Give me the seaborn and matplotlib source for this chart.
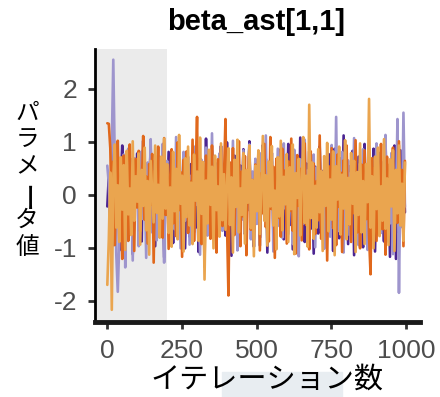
"""
Trace plot of beta_ast[1,1] (4 chains, warmup shaded).
"""
import matplotlib
matplotlib.use("Agg")
import matplotlib.pyplot as plt
import numpy as np
import pandas as pd
import seaborn as sns
from matplotlib.patches import Rectangle

# iteration grid (every 5th draw)
iterations = np.arange(1, 1001, 5)

chain1 = [
    -0.22, 0.35, -0.61, 0.84, -0.95, 0.41, -0.18, 0.72, -1.05, 0.26, 0.93, -0.47, 0.12, -0.83, 0.58, -0.31, 0.67, -1.12, 0.44, -0.09,
    0.78, -0.56, 0.21, -0.88, 1.02, -0.35, 0.49, -0.72, 0.15, 0.88, -0.41, 0.63, -0.97, 0.28, -0.14, 0.71, -0.66, 0.37, -1.18, 0.52,
    -0.25, 0.81, -0.53, 0.19, -0.91, 0.64, -0.08, 0.97, -0.69, 0.33, -0.44, 0.75, -1.01, 0.46, 0.07, -0.79, 0.58, -0.29, 0.89, -0.62,
    0.24, -1.08, 0.69, -0.17, 0.52, -0.85, 1.06, -0.38, 0.13, -0.71, 0.83, -0.49, 0.31, -0.94, 0.61, -0.11, 0.92, -0.58, 0.18, -0.77,
    0.99, -0.32, 0.47, -1.15, 0.28, 0.74, -0.63, 0.09, -0.87, 0.55, -0.21, 0.86, -0.74, 0.39, -0.05, 1.01, -0.52, 0.22, -0.98, 0.66,
    -0.36, 0.57, -0.81, 0.14, 0.94, -0.45, 0.68, -1.09, 0.32, -0.16, 0.79, -0.67, 0.43, -0.92, 0.26, 0.85, -0.39, 0.11, -0.84, 0.62,
    -0.13, 0.96, -0.57, 0.35, -1.03, 0.71, -0.27, 0.48, -0.76, 1.08, -0.42, 0.17, -0.89, 0.59, -0.23, 0.82, -0.64, 0.29, -1.11, 0.53,
    0.04, -0.73, 0.91, -0.34, 0.45, -0.96, 0.63, -0.19, 0.77, -0.55, 0.38, -1.06, 0.87, -0.28, 0.16, -0.82, 0.69, -0.47, 1.12, -0.61,
    0.27, -0.93, 0.54, -0.12, 0.83, -1.14, 0.41, -0.37, 0.72, -0.68, 0.19, -0.99, 0.96, -0.43, 0.34, -0.81, 0.58, -0.24, 0.87, -1.07,
    0.46, -0.54, 0.79, -0.31, 0.12, -0.88, 1.05, -0.49, 0.36, -1.17, 0.67, -0.26, 0.93, -1.21, 0.51, -0.71, 0.84, -0.42, 0.63, -0.33,
]
chain2 = [
    0.55, 0.21, -0.42, 0.93, 2.55, 0.62, -1.12, -1.83, -0.91, 0.34, -0.58, 0.76, -1.37, 0.18, 0.87, -0.63, 0.42, -1.24, 0.69, -0.15,
    0.53, -0.97, 0.11, 0.82, -0.46, 0.27, -1.19, 0.61, -0.22, 1.05, -0.71, 0.38, -0.08, -0.86, 0.74, 0.19, -0.53, 0.96, -1.28, 0.31,
    0.64, -0.37, -0.82, 0.49, 0.12, -0.65, 1.09, -0.28, 0.57, -1.01, 0.23, 0.81, -0.49, -0.16, 0.72, -0.94, 0.36, 0.08, -0.71, 0.92,
    -0.19, 0.47, -1.13, 0.66, -0.31, 0.15, 0.89, -0.77, 0.29, -0.44, 1.16, -0.58, 0.04, -0.91, 0.53, 0.78, -0.25, -0.68, 0.41, -0.12,
    0.73, -0.89, 0.35, -0.39, 1.02, -0.61, 0.18, -1.05, 0.57, 0.26, -0.47, 0.84, -0.73, 0.11, -0.29, 0.95, -0.84, 0.44, -0.07, 0.68,
    -0.55, 0.31, -0.96, 0.79, 0.06, -0.42, 1.12, -0.69, 0.24, -0.18, 0.63, -1.07, 0.48, -0.33, 0.87, -0.59, 0.14, -0.81, 0.97, -0.26,
    0.39, -0.74, 0.58, -0.11, -0.93, 0.85, -0.48, 0.21, -1.16, 0.67, 0.09, -0.55, 1.04, -0.37, 0.46, -0.83, 0.28, -0.17, 0.76, -0.99,
    0.52, -0.28, 0.89, -0.64, 0.13, -1.02, 0.71, -0.35, 0.37, -0.79, 0.94, -0.21, -0.57, 1.47, -0.69, 0.22, -0.43, 0.81, -1.09, 0.34,
    -0.08, 0.65, -0.76, 0.42, -0.31, 1.07, -0.52, 0.17, -0.95, 0.59, -0.13, 0.86, -0.67, 0.27, -1.04, 0.73, -0.36, 0.49, -0.85, 0.11,
    0.97, -0.46, 0.32, -0.72, 0.61, -0.19, 1.13, -0.88, 0.25, -0.54, 0.79, -1.12, 0.43, -0.27, 1.43, -1.85, 0.38, -0.61, 1.55, -0.22,
]
chain3 = [
    1.35, 1.34, 0.88, -0.41, 0.63, -0.95, 0.27, 1.02, -0.58, 0.16, -1.21, 0.74, -0.33, 0.51, -0.87, 0.95, -0.14, 0.39, -1.06, 0.68,
    -0.24, 0.83, -0.69, 0.12, 1.11, -0.47, 0.35, -0.92, 0.58, -0.19, 0.77, -1.28, 0.46, -0.06, 0.91, -0.63, 0.22, -0.81, 1.07, -0.38,
    0.55, -1.02, 0.31, 0.86, -0.54, 0.17, -0.78, 0.99, -0.29, 0.43, -1.17, 0.66, -0.11, 0.82, -0.72, 0.25, -0.45, 1.04, -0.87, 0.38,
    1.47, -0.64, 0.21, -0.93, 0.59, -1.36, 0.74, -0.18, 0.48, -0.83, 0.93, -0.37, 0.14, -1.09, 0.67, -0.26, 0.85, -0.59, 0.32, 1.43,
    -0.51, -1.90, 0.61, -0.22, 0.88, -0.76, 0.36, -0.13, 1.01, -0.97, 0.44, -0.41, 0.73, -1.14, 0.19, 0.92, -0.66, 0.28, -0.84, 0.57,
    -0.09, 0.79, -1.05, 0.41, -0.35, 0.96, -0.61, 0.15, -0.88, 1.09, -0.27, 0.53, -1.19, 0.68, -0.44, 0.24, -0.79, 0.87, -0.16, 0.46,
    -0.92, 0.63, -0.31, 1.06, -0.68, 0.18, -1.11, 0.75, -0.21, 0.49, -0.86, 0.33, 0.97, -0.57, 0.11, -1.03, 0.82, -0.39, 0.59, -0.74,
    0.26, -0.48, 1.12, -0.83, 0.39, -0.14, 0.71, -1.24, 0.54, -0.32, 0.88, -0.63, 0.17, -0.95, 0.76, -0.23, 0.42, -1.08, 0.65, -0.18,
    0.93, -0.56, 0.29, -0.89, 0.62, -0.35, 1.03, -0.71, 0.14, -1.01, 0.57, -0.24, 0.84, -0.46, 0.35, -0.78, -1.50, 0.69, -0.29, 0.51,
    -0.87, 0.38, -0.12, 0.96, -0.65, 0.23, -1.13, 0.72, -0.42, 0.58, -0.19, 0.89, -0.76, 0.31, -0.53, 1.01, -0.34, 0.47, -0.97, 0.64,
]
chain4 = [
    -1.70, -0.85, 0.42, -2.17, 0.31, 0.95, -0.62, 0.18, -0.89, 0.71, -0.28, 0.56, -1.04, 0.83, -0.37, 0.12, -0.76, 1.01, -0.49, 0.35,
    -0.13, 0.78, -0.94, 0.47, -0.21, 0.89, -0.67, 0.26, -1.13, 0.64, 0.05, -0.52, 0.93, -0.34, 0.19, -0.81, 0.72, -0.45, 1.06, -0.26,
    0.58, -0.72, 0.14, -0.98, 0.81, -0.31, 0.49, -0.84, 1.13, -0.17, 0.36, -1.07, 0.69, -0.42, 0.91, -0.58, 0.23, -0.93, 0.76, -0.11,
    0.44, -0.87, 1.08, -0.36, 0.62, -1.60, 0.27, -0.54, 0.85, -0.19, 0.53, -1.01, 0.74, -0.29, 0.16, -0.79, 0.97, -0.48, 0.39, -0.66,
    0.21, 0.88, -0.57, 0.33, -1.09, 0.66, -0.23, 1.04, -0.71, 0.12, -0.38, 0.79, -0.92, 0.47, -0.15, 0.93, -0.63, 0.28, -1.16, 0.55,
    -0.31, 0.84, -0.74, 0.19, 1.11, -0.49, 0.37, -0.96, 0.63, -0.22, 0.92, -0.58, 0.08, -1.03, 0.71, -0.41, 1.02, -0.67, 0.34, -0.18,
    0.77, -0.89, 0.52, -0.27, 0.95, -1.12, 0.41, -0.06, 0.68, -0.77, 0.24, 1.09, -0.53, 0.36, -0.98, 1.70, -0.44, 0.61, -0.83, 0.17,
    -0.62, 0.86, -0.33, 0.45, -1.06, 0.73, -0.21, 0.98, -0.69, 0.29, -0.47, 0.82, -1.14, 0.54, -0.09, 0.91, -0.75, 0.38, -0.26, 1.03,
    -0.84, 0.32, -0.56, 0.79, -0.17, 0.64, -1.08, 0.43, -0.38, 0.97, -0.71, 0.26, -0.93, 0.58, -0.14, 1.81, -0.62, 0.35, -1.01, 0.72,
    -0.27, 0.89, -0.78, 0.16, -0.49, 1.05, -0.64, 0.31, -0.95, 0.67, -0.22, 0.84, -1.06, 0.47, -0.35, 0.93, -0.58, 0.21, -0.87, 0.61,
]

chain_names = ["1", "2", "3", "4"]
chain_colors = ["#4b2491", "#9e95cd", "#e0681c", "#eaa54f"]
n_warmup = 200

x_ticks = [0, 250, 500, 750, 1000]
y_ticks = [-2, -1, 0, 1, 2]

title = "beta_ast[1,1]"
x_label = "イテレーション数"
y_label = "パラメータ値"

df = pd.concat([
    pd.DataFrame({"iteration": iterations, "value": vals, "chain": name})
    for name, vals in zip(chain_names, [chain1, chain2, chain3, chain4])
])

sns.set_style("ticks")
plt.rcParams["font.family"] = ["Liberation Sans", "Noto Sans CJK JP"]
plt.rcParams["axes.unicode_minus"] = False

fig = plt.figure(figsize=(4.4, 3.97), dpi=100)
ax = fig.add_axes([0.216, 0.189, 0.739, 0.688])

# warmup region
ax.axvspan(-40, n_warmup, color="#ebebeb", lw=0, zorder=0)

sns.lineplot(data=df, x="iteration", y="value", hue="chain",
             palette=chain_colors, estimator=None, sort=False,
             linewidth=1.9, legend=False, ax=ax)

ax.set_xlim(-40, 1047)
ax.set_ylim(-2.40, 2.755)
ax.set_xticks(x_ticks)
ax.set_yticks(y_ticks)
ax.set_xlabel("")
ax.set_ylabel("")

for side in ["top", "right"]:
    ax.spines[side].set_visible(False)
ax.spines["left"].set_linewidth(2.0)
ax.spines["bottom"].set_linewidth(3.5)
ax.spines["left"].set_color("black")
ax.spines["bottom"].set_color("#1a1a1a")

ax.tick_params(axis="both", length=5, width=2, color="#333333",
               labelsize=19, labelcolor="#4d4d4d")
ax.tick_params(axis="y", pad=8)
ax.tick_params(axis="x", pad=7)

fig.text(256 / 440, 1 - 22 / 397, title, ha="center", va="center",
         fontsize=21, fontweight="bold", color="black")
fig.text(267 / 440, 1 - 380 / 397, x_label, ha="center", va="center",
         fontsize=21, color="black", family=["Noto Sans CJK JP"])

# vertical (tategaki) y label: one glyph per line, long-vowel mark turned
for i, ch in enumerate(y_label):
    turned = ch == "ー"
    fig.text((33 if turned else 27) / 440, 1 - (113 + 26.8 * i) / 397, ch,
             ha="center", va="center", fontsize=21 if turned else 17,
             color="black", rotation=90 if turned else 0,
             family=["Noto Sans CJK JP"])

# faint highlight band behind part of the x label
fig.patches.append(Rectangle((222 / 440, 0), 120 / 440, 25 / 397,
                             transform=fig.transFigure, color="#e8edf1",
                             zorder=-1))

fig.savefig("out.png", dpi=100)
